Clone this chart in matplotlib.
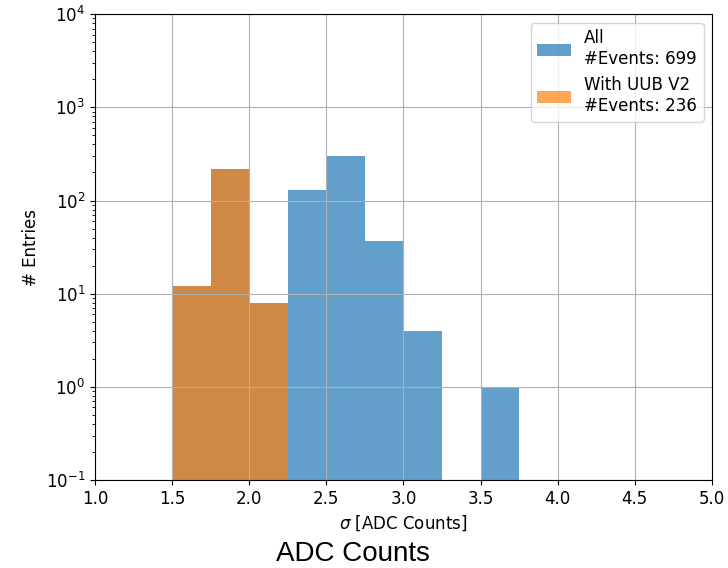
import matplotlib.pyplot as plt

bin_edges = [1.5, 1.75, 2.0, 2.25, 2.5, 2.75, 3.0, 3.25, 3.5, 3.75]
counts_all = [12, 220, 8, 129, 300, 37, 4, 0, 1]
counts_v2 = [12, 220, 8, 0, 0, 0, 0, 0, 0]
label_all = 'All\n#Events: 699'
label_v2 = 'With UUB V2\n#Events: 236'

fig = plt.figure(figsize=(7.28, 5.68), dpi=100)
ax = fig.add_axes([0.1305, 0.155, 0.8475, 0.82])

lefts = bin_edges[:-1]
ax.hist(lefts, bins=bin_edges, weights=counts_all, color='tab:blue', alpha=0.7, label=label_all)
ax.hist(lefts, bins=bin_edges, weights=counts_v2, color='tab:orange', alpha=0.7, label=label_v2)

ax.set_yscale('log')
ax.set_ylim(0.1, 1e4)
ax.set_xlim(1.0, 5.0)
ax.grid(True)
ax.tick_params(labelsize=12)
ax.set_xlabel(r'$\sigma$ [ADC Counts]', fontsize=12)
ax.set_ylabel('# Entries', fontsize=12)
ax.legend(loc='upper right', fontsize=12)

fig.text(0.485, 0.012, 'ADC Counts', ha='center', va='baseline', fontsize=20,
         family=['Liberation Sans', 'DejaVu Sans'])

plt.savefig('out.png')
